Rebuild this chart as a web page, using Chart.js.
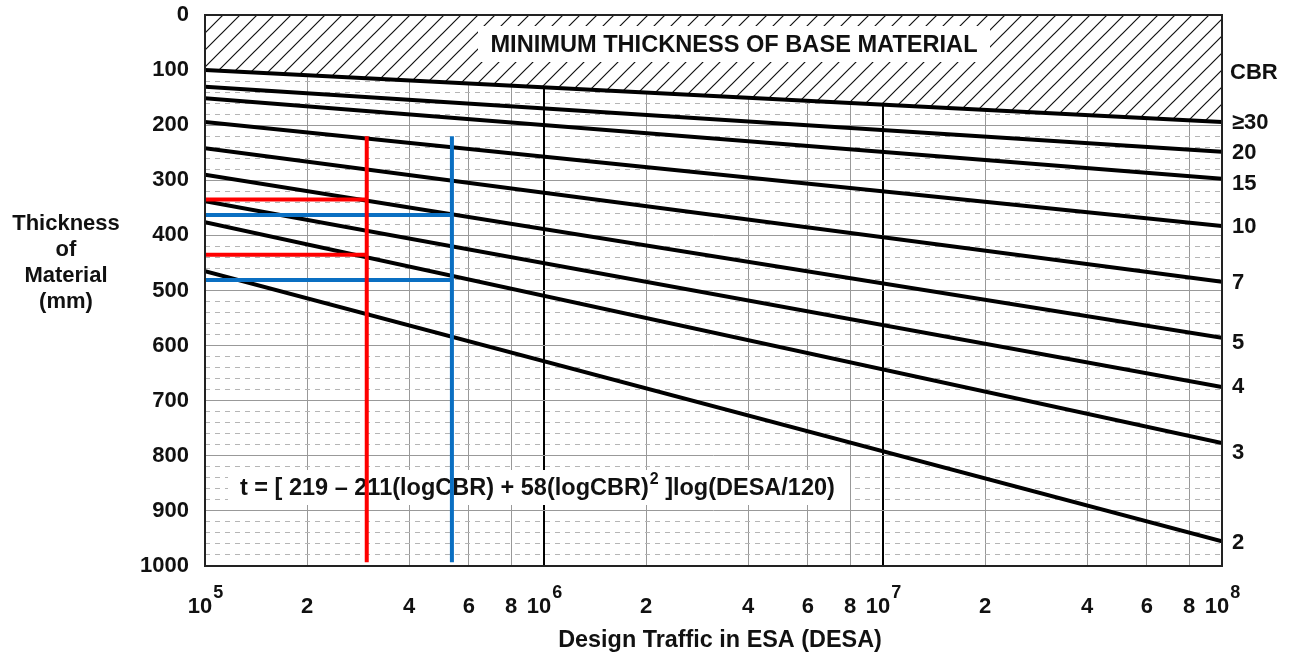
<!DOCTYPE html>
<html>
<head>
<meta charset="utf-8">
<script src="https://cdn.jsdelivr.net/npm/chart.js@4/dist/chart.umd.min.js"></script>
<style>
  html, body { margin: 0; padding: 0; background: #fff; }
  #wrap { width: 1294px; height: 660px; position: relative; }
</style>
</head>
<body>
<div id="wrap"><canvas id="chart"></canvas></div>
<script>
// CBR curves, read at both ends of the DESA range
const cbrLabels = ['≥30', '20', '15', '10', '7', '5', '4', '3', '2'];
const desaRange = [1e5, 1e8];
const thicknessAtMin = [100, 130, 151, 194, 242, 290, 338, 376, 465];
const thicknessAtMax = [194, 248, 297, 383, 484, 586, 675, 777, 955];

// worked examples
const redDesa = 3e5;
const redSpan = [220, 993];
const redThickness = [335, 435];
const blueDesa = 5.35e5;
const blueSpan = [220, 993];
const blueThickness = [363, 481];

const xTickValues = [1e5, 2e5, 4e5, 6e5, 8e5, 1e6, 2e6, 4e6, 6e6, 8e6, 1e7, 2e7, 4e7, 6e7, 8e7, 1e8];
const yMajorStep = 100;

const FONT = '"Liberation Sans", Arial, Helvetica, sans-serif';

// hatch pattern for the "minimum thickness" zone
function makeHatch() {
    const s = 17;
    const c = document.createElement('canvas');
    c.width = s; c.height = s;
    const g = c.getContext('2d');
    g.fillStyle = '#fff';
    g.fillRect(0, 0, s, s);
    g.strokeStyle = '#111';
    g.lineWidth = 1.2;
    g.beginPath();
    g.moveTo(0, s); g.lineTo(s, 0);
    g.moveTo(-s / 2, s / 2); g.lineTo(s / 2, -s / 2);
    g.moveTo(s / 2, s * 1.5); g.lineTo(s * 1.5, s / 2);
    g.stroke();
    return g.createPattern(c, 'repeat');
}

function isPow10(v) {
    const e = Math.log10(v);
    return Math.abs(e - Math.round(e)) < 1e-9;
}

const datasets = [];

// red example
datasets.push({ data: [{x: redDesa, y: redSpan[0]}, {x: redDesa, y: redSpan[1]}], borderColor: '#ff0000', order: 0 });
redThickness.forEach(t => datasets.push({ data: [{x: desaRange[0], y: t}, {x: redDesa, y: t}], borderColor: '#ff0000', order: 0 }));
// blue example
datasets.push({ data: [{x: blueDesa, y: blueSpan[0]}, {x: blueDesa, y: blueSpan[1]}], borderColor: '#0a6fc2', order: 0 });
blueThickness.forEach(t => datasets.push({ data: [{x: desaRange[0], y: t}, {x: blueDesa, y: t}], borderColor: '#0a6fc2', order: 0 }));

const hatch = makeHatch();
cbrLabels.forEach((lab, i) => {
    datasets.push({
        label: 'CBR ' + lab,
        data: [{x: desaRange[0], y: thicknessAtMin[i]}, {x: desaRange[1], y: thicknessAtMax[i]}],
        borderColor: '#000',
        backgroundColor: i === 0 ? hatch : 'transparent',
        fill: i === 0 ? {value: 0} : false,
        order: 2
    });
});

// boxes, labels and frame drawn on top of the chart
const decorPlugin = {
    id: 'decor',
    beforeDatasetsDraw(chart) {
        const ctx = chart.ctx;
        // formula box
        ctx.save();
        ctx.fillStyle = '#fff';
        ctx.fillRect(228, 470, 622, 35);
        ctx.fillStyle = '#111';
        ctx.textBaseline = 'middle';
        ctx.textAlign = 'left';
        ctx.font = 'bold 23.5px ' + FONT;
        const part1 = 't = [ 219 \u2013 211(logCBR) + 58(logCBR)';
        let x = 240;
        ctx.fillText(part1, x, 489);
        x += ctx.measureText(part1).width;
        ctx.font = 'bold 16px ' + FONT;
        ctx.fillText('2', x + 1, 480);
        x += ctx.measureText('2').width + 1;
        ctx.font = 'bold 23.5px ' + FONT;
        ctx.fillText(' ]log(DESA/120)', x, 489);
        ctx.restore();
    },
    afterDatasetsDraw(chart) {
        const ctx = chart.ctx;
        const area = chart.chartArea;
        const xs = chart.scales.x, ys = chart.scales.y;
        ctx.save();
        // title box in the hatched zone
        ctx.fillStyle = '#fff';
        ctx.fillRect(478, 26, 512, 36);
        ctx.fillStyle = '#111';
        ctx.font = 'bold 23.6px ' + FONT;
        ctx.textAlign = 'center';
        ctx.textBaseline = 'middle';
        ctx.fillText('MINIMUM THICKNESS OF BASE MATERIAL', 734, 45);

        // frame
        ctx.strokeStyle = '#222';
        ctx.lineWidth = 2;
        ctx.strokeRect(area.left, area.top, area.right - area.left, area.bottom - area.top);

        // CBR labels on the right
        ctx.textAlign = 'left';
        ctx.font = 'bold 22px ' + FONT;
        ctx.fillText('CBR', area.right + 8, 73);
        const nudge = [1, 1, 5, 1, 1, 5, 0, 10, 2];
        cbrLabels.forEach((lab, i) => {
            ctx.fillText(lab, area.right + 10, ys.getPixelForValue(thicknessAtMax[i]) + nudge[i]);
        });

        // x tick labels with powers of ten
        ctx.textBaseline = 'middle';
        xTickValues.forEach(v => {
            const px = xs.getPixelForValue(v);
            if (isPow10(v)) {
                const exp = String(Math.round(Math.log10(v)));
                ctx.font = 'bold 22px ' + FONT;
                const w1 = ctx.measureText('10').width;
                ctx.font = 'bold 18px ' + FONT;
                const w2 = ctx.measureText(exp).width;
                const left = px - (w1 + w2) / 2;
                ctx.font = 'bold 22px ' + FONT;
                ctx.textAlign = 'left';
                ctx.fillText('10', left, 607);
                ctx.font = 'bold 18px ' + FONT;
                ctx.fillText(exp, left + w1 + 1, 593);
            } else {
                ctx.font = 'bold 22px ' + FONT;
                ctx.textAlign = 'center';
                ctx.fillText(String(Math.round(v / Math.pow(10, Math.floor(Math.log10(v))))), px, 607);
            }
        });

        // axis titles
        ctx.textAlign = 'center';
        ctx.font = 'bold 23.4px ' + FONT;
        ctx.fillText('Design Traffic in ESA (DESA)', 720, 641);
        ctx.font = 'bold 22px ' + FONT;
        ['Thickness', 'of', 'Material', '(mm)'].forEach((t, i) => ctx.fillText(t, 66, 224 + i * 26));
        ctx.restore();
    }
};

new Chart(document.getElementById('chart'), {
    type: 'line',
    data: { datasets: datasets },
    options: {
        responsive: true,
        maintainAspectRatio: false,
        animation: false,
        layout: { padding: { top: 15, right: 72, left: 0, bottom: 0 } },
        elements: {
            line: { borderWidth: 4, tension: 0 },
            point: { radius: 0 }
        },
        plugins: {
            legend: { display: false },
            tooltip: { enabled: false }
        },
        scales: {
            x: {
                type: 'logarithmic',
                min: desaRange[0],
                max: desaRange[1],
                afterBuildTicks: axis => { axis.ticks = xTickValues.map(v => ({ value: v })); },
                afterFit: axis => { axis.height = 94; },
                ticks: { display: false },
                border: { display: false },
                grid: {
                    drawTicks: false,
                    color: c => (c.tick && isPow10(c.tick.value)) ? '#000' : '#999',
                    lineWidth: c => (c.tick && isPow10(c.tick.value)) ? 2 : 1
                }
            },
            y: {
                type: 'linear',
                reverse: true,
                min: 0,
                max: 1000,
                afterFit: axis => {
                    axis.width = 205;
                    axis.paddingTop = 0;
                    axis.paddingBottom = 0;
                },
                ticks: {
                    stepSize: 20,
                    autoSkip: false,
                    padding: 16,
                    color: '#111',
                    font: { family: FONT, size: 22, weight: 'bold' },
                    callback: v => (v % yMajorStep === 0 ? v : '')
                },
                border: {
                    display: false,
                    dash: c => (c.tick && c.tick.value % yMajorStep !== 0) ? [5, 5] : []
                },
                grid: {
                    drawTicks: false,
                    color: c => (c.tick && c.tick.value % yMajorStep !== 0) ? '#b5b5b5' : '#999',
                    lineWidth: 1
                }
            }
        }
    },
    plugins: [decorPlugin]
});
</script>
</body>
</html>
